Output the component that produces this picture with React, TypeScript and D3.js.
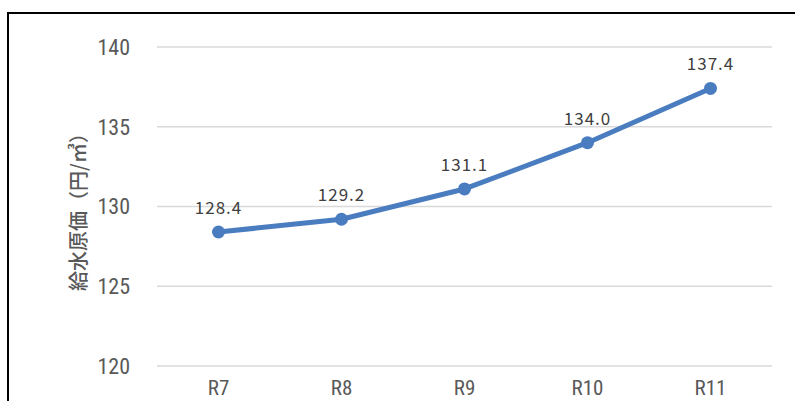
import React from "react";
import * as d3 from "d3";

const categories = ["R7", "R8", "R9", "R10", "R11"];
const values = [128.4, 129.2, 131.1, 134.0, 137.4];
const yTicks = [120, 125, 130, 135, 140];
const yTitle = "給水原価（円/㎥）";

const W = 795;
const H = 401;

export default function App() {
  const x = d3.scaleBand<string>().domain(categories).range([157, 772]);
  const y = d3.scaleLinear().domain([120, 140]).range([366, 47]);
  const cx = (c: string) => (x(c) ?? 0) + x.bandwidth() / 2;

  const line = d3
    .line<number>()
    .x((_, i) => cx(categories[i]))
    .y((d) => y(d));

  const axisFont = "'Liberation Sans Narrow', 'Roboto Condensed', 'Liberation Sans', sans-serif";
  const labelFont = "'Noto Sans CJK JP', sans-serif";

  return (
    <svg
      width={W}
      height={H}
      style={{ position: "absolute", left: 0, top: 0, background: "#fff" }}
    >
      {/* frame */}
      <path d={`M8,${H + 2} L8,13 L${W + 2},13`} fill="none" stroke="#000" strokeWidth={2} />

      {/* gridlines */}
      {yTicks.map((t) => (
        <line
          key={t}
          x1={157}
          x2={772}
          y1={y(t)}
          y2={y(t)}
          stroke="#d9d9d9"
          strokeWidth={1.5}
        />
      ))}

      {/* y tick labels */}
      {yTicks.map((t) => (
        <text
          key={t}
          x={130}
          y={y(t)}
          dy="0.36em"
          textAnchor="end"
          fontFamily={axisFont}
          fontSize={22}
          fill="#595959"
        >
          {t}
        </text>
      ))}

      {/* x tick labels */}
      {categories.map((c) => (
        <text
          key={c}
          x={cx(c)}
          y={395}
          textAnchor="middle"
          fontFamily={axisFont}
          fontSize={21}
          fill="#595959"
        >
          {c}
        </text>
      ))}

      {/* y axis title */}
      <text
        transform={`translate(86,207) rotate(-90)`}
        textAnchor="middle"
        fontFamily={labelFont}
        fontSize={20}
        fontWeight={500}
        fill="#595959"
      >
        {yTitle}
      </text>

      {/* series line */}
      <path d={line(values) ?? ""} fill="none" stroke="#4a7cc0" strokeWidth={5} strokeLinejoin="round" />
      {values.map((v, i) => (
        <circle key={i} cx={cx(categories[i])} cy={y(v)} r={6.5} fill="#4a7cc0" />
      ))}

      {/* value labels */}
      {values.map((v, i) => (
        <text
          key={i}
          x={cx(categories[i])}
          y={y(v) - 18}
          textAnchor="middle"
          fontFamily={labelFont}
          fontSize={17}
          letterSpacing={1}
          fill="#404040"
        >
          {v.toFixed(1)}
        </text>
      ))}
    </svg>
  );
}
